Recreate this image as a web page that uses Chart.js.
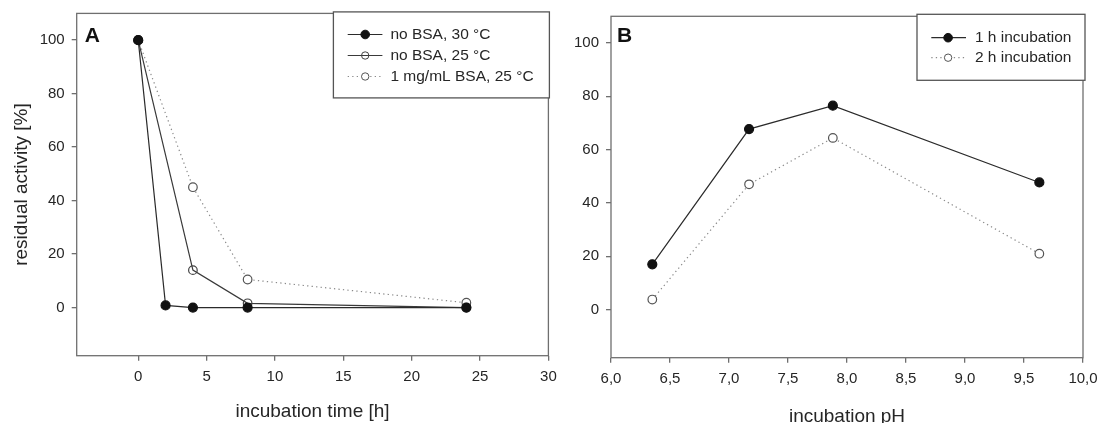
<!DOCTYPE html>
<html>
<head>
<meta charset="utf-8">
<script src="https://cdn.jsdelivr.net/npm/chart.js@4.4.1/dist/chart.umd.min.js"></script>
<style>
  html, body { margin: 0; padding: 0; background: #fff; overflow: hidden; width: 1101px; height: 423px; }
  #wrapA { position: absolute; left: 0; top: 0; width: 560px; height: 423px; }
  #wrapB { position: absolute; left: 550px; top: 0; width: 551px; height: 428px; }
</style>
</head>
<body>
<div id="wrapA"><canvas id="chartA" width="560" height="423"></canvas></div>
<div id="wrapB"><canvas id="chartB" width="551" height="428"></canvas></div>
<script>
// ---------- data ----------
const labelsA = ['no BSA, 30 °C', 'no BSA, 25 °C', '1 mg/mL BSA, 25 °C'];
const timeNoBSA30 = [0, 2, 4, 8, 24];
const actNoBSA30 = [100, 0.8, 0, 0, 0];
const timeNoBSA25 = [0, 4, 8, 24];
const actNoBSA25 = [100, 14, 1.6, 0];
const timeBSA25 = [0, 4, 8, 24];
const actBSA25 = [100, 45, 10.5, 1.8];

const labelsB = ['1 h incubation', '2 h incubation'];
const pH1h = [6.35, 7.17, 7.88, 9.63];
const act1h = [17, 67.7, 76.5, 47.7];
const pH2h = [6.35, 7.17, 7.88, 9.63];
const act2h = [3.8, 47, 64.4, 21];

const xTicksA = [0, 5, 10, 15, 20, 25, 30];
const xTicksB = [6.0, 6.5, 7.0, 7.5, 8.0, 8.5, 9.0, 9.5, 10.0];
const yTicks = [0, 20, 40, 60, 80, 100];

// ---------- style ----------
const FONT = '"Liberation Sans", Arial, Helvetica, sans-serif';
const TEXT = '#262626';
const AXIS = '#6f6f6f';

function pts(xs, ys) { return xs.map((x, i) => ({ x: x, y: ys[i] })); }

const frameLegend = {
  id: 'frameLegend',
  beforeDatasetsDraw(chart, args, o) {
    const { ctx, chartArea: a } = chart;
    ctx.save();
    ctx.strokeStyle = AXIS;
    ctx.lineWidth = 1.3;
    ctx.strokeRect(a.left, a.top, a.right - a.left, a.bottom - a.top);
    ctx.restore();
  },
  afterDraw(chart, args, o) {
    const { ctx, chartArea: a } = chart;
    ctx.save();
    ctx.fillStyle = '#111';
    ctx.font = 'bold 21px ' + FONT;
    ctx.textBaseline = 'middle';
    ctx.textAlign = 'left';
    ctx.fillText(o.letter, a.left + o.letterDx, o.letterY);
    const L = o.legend;
    const bx = a.right + L.dxRight - L.width;
    const by = a.top + L.dy;
    ctx.fillStyle = '#fff';
    ctx.fillRect(bx, by, L.width, L.height);
    ctx.strokeStyle = '#555';
    ctx.lineWidth = 1.3;
    ctx.strokeRect(bx, by, L.width, L.height);
    ctx.font = '15.5px ' + FONT;
    ctx.textBaseline = 'middle';
    chart.data.datasets.forEach((ds, i) => {
      const y = by + L.row0 + i * L.rowStep;
      ctx.save();
      ctx.strokeStyle = ds.borderColor;
      ctx.lineWidth = ds.borderWidth;
      ctx.setLineDash(ds.borderDash || []);
      ctx.beginPath();
      ctx.moveTo(bx + L.lineX0, y);
      ctx.lineTo(bx + L.lineX1, y);
      ctx.stroke();
      ctx.restore();
      ctx.beginPath();
      ctx.arc(bx + L.markX, y, ds.legendRadius, 0, Math.PI * 2);
      ctx.fillStyle = ds.pointBackgroundColor;
      ctx.fill();
      ctx.strokeStyle = ds.pointBorderColor;
      ctx.lineWidth = 1;
      ctx.stroke();
      ctx.fillStyle = TEXT;
      ctx.fillText(ds.label, bx + L.textX, y);
    });
    ctx.restore();
  }
};

function zeroPad(s) { s.paddingLeft = 0; s.paddingRight = 0; s.paddingTop = 0; s.paddingBottom = 0; }

function axisX(ticksArr, min, max, title, fmt, height, titlePad) {
  return {
    type: 'linear', min: min, max: max,
    afterBuildTicks: s => { s.ticks = ticksArr.map(v => ({ value: v })); },
    afterFit: s => { s.height = height; zeroPad(s); },
    border: { display: false },
    grid: { display: true, drawOnChartArea: false, drawTicks: true, tickLength: 5, color: AXIS, lineWidth: 1.3 },
    ticks: { color: TEXT, font: { family: FONT, size: 15 }, padding: 7, maxRotation: 0, autoSkip: false, callback: fmt },
    title: { display: true, text: title, color: TEXT, font: { family: FONT, size: 19 }, padding: { top: 0, bottom: titlePad } }
  };
}
function axisY(width, title) {
  return {
    type: 'linear', min: -18, max: 110,
    afterBuildTicks: s => { s.ticks = yTicks.map(v => ({ value: v })); },
    afterFit: s => { s.width = width; zeroPad(s); },
    border: { display: false },
    grid: { display: true, drawOnChartArea: false, drawTicks: true, tickLength: 5, color: AXIS, lineWidth: 1.3 },
    ticks: { color: TEXT, font: { family: FONT, size: 15 }, padding: 7, autoSkip: false },
    title: { display: !!title, text: title || '', color: TEXT, font: { family: FONT, size: 19 }, padding: { top: 10, bottom: 0 } }
  };
}

const filled = { pointBackgroundColor: '#111', pointBorderColor: '#111', pointRadius: 4.5, legendRadius: 4.3 };
const openT = { pointBackgroundColor: 'rgba(255,255,255,0)', pointBorderColor: '#444', pointRadius: 4.3, legendRadius: 3.7 };
const openW = { pointBackgroundColor: '#fff', pointBorderColor: '#555', pointRadius: 4.3, legendRadius: 3.7 };

new Chart(document.getElementById('chartA'), {
  type: 'scatter',
  data: {
    datasets: [
      Object.assign({ label: labelsA[0], data: pts(timeNoBSA30, actNoBSA30), showLine: true, borderColor: '#2b2b2b', borderWidth: 1.2, borderDash: [] }, filled),
      Object.assign({ label: labelsA[1], data: pts(timeNoBSA25, actNoBSA25), showLine: true, borderColor: '#3a3a3a', borderWidth: 1.2, borderDash: [] }, openT),
      Object.assign({ label: labelsA[2], data: pts(timeBSA25, actBSA25), showLine: true, borderColor: '#8a8a8a', borderWidth: 1.2, borderDash: [1.3, 3.2] }, openW)
    ]
  },
  options: {
    responsive: false, animation: false, devicePixelRatio: 1,
    layout: { padding: { left: 0, top: 13.4, right: 11.6, bottom: 0 } },
    scales: {
      x: axisX(xTicksA, -4.5, 30, 'incubation time [h]', v => String(v), 67.3, 0),
      y: axisY(76.7, 'residual activity [%]')
    },
    plugins: {
      legend: { display: false }, tooltip: { enabled: false },
      frameLegend: {
        letter: 'A', letterDx: 8, letterY: 36,
        legend: { width: 216, height: 86, dxRight: 1, dy: -1.5, row0: 22.6, rowStep: 21, lineX0: 14.3, lineX1: 49, markX: 31.8, textX: 57 }
      }
    }
  },
  plugins: [frameLegend]
});

new Chart(document.getElementById('chartB'), {
  type: 'scatter',
  data: {
    datasets: [
      Object.assign({ label: labelsB[0], data: pts(pH1h, act1h), showLine: true, borderColor: '#2b2b2b', borderWidth: 1.2, borderDash: [] }, filled),
      Object.assign({ label: labelsB[1], data: pts(pH2h, act2h), showLine: true, borderColor: '#8a8a8a', borderWidth: 1.2, borderDash: [1.3, 3.2] }, openW)
    ]
  },
  options: {
    responsive: false, animation: false, devicePixelRatio: 1,
    layout: { padding: { left: 0, top: 16.3, right: 18, bottom: 0 } },
    scales: {
      x: axisX(xTicksB, 6, 10, 'incubation pH', v => v.toFixed(1).replace('.', ','), 70.3, 0),
      y: axisY(61, '')
    },
    plugins: {
      legend: { display: false }, tooltip: { enabled: false },
      frameLegend: {
        letter: 'B', letterDx: 6, letterY: 36,
        legend: { width: 168, height: 66, dxRight: 2, dy: -2, row0: 23.4, rowStep: 20, lineX0: 14.3, lineX1: 49, markX: 31.1, textX: 57.9 }
      }
    }
  },
  plugins: [frameLegend]
});
</script>
</body>
</html>
